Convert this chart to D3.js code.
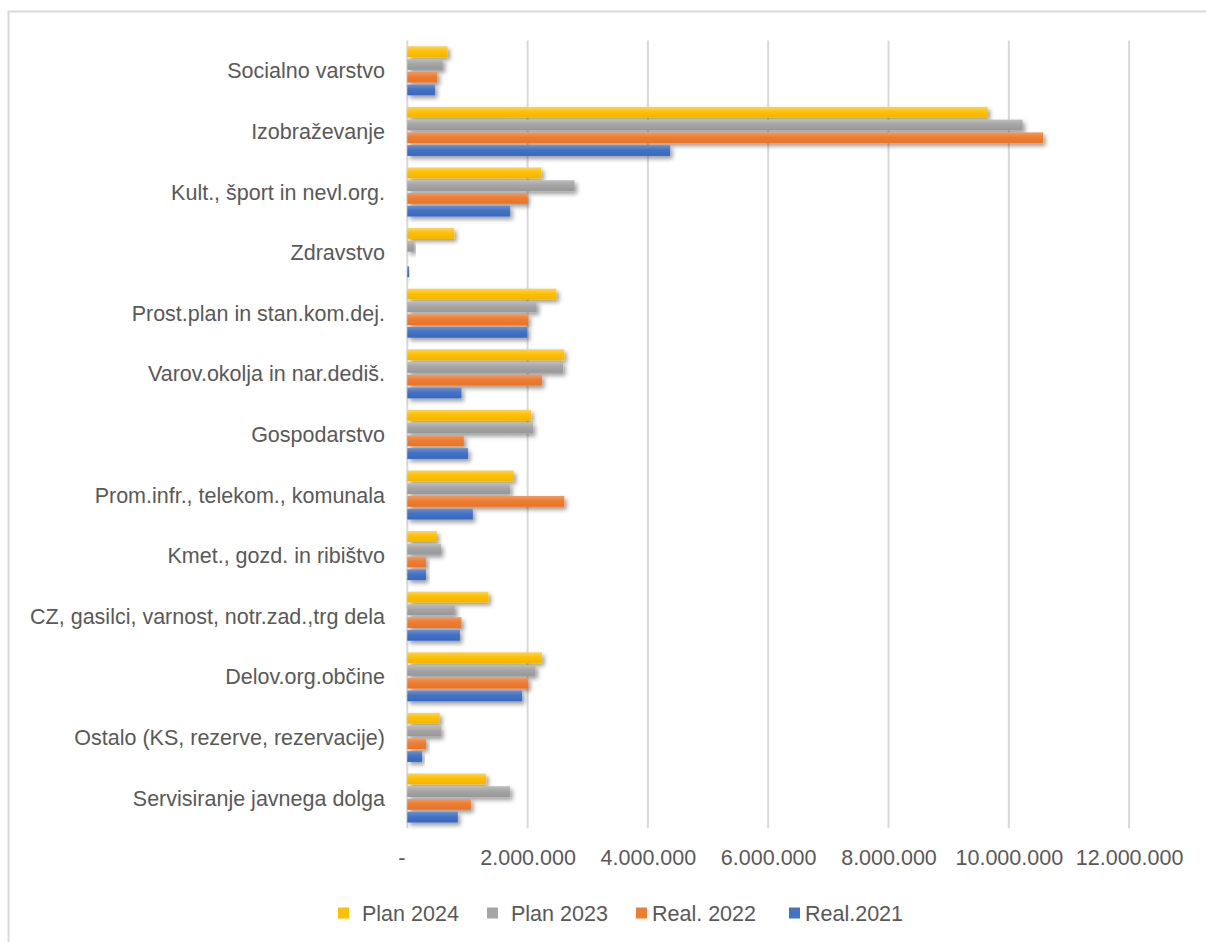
<!DOCTYPE html>
<html>
<head>
<meta charset="utf-8">
<script src="https://cdn.jsdelivr.net/npm/d3@7"></script>
<style>
  html, body { margin: 0; padding: 0; background: #fff; }
  svg { display: block; font-family: "Liberation Sans", Arial, sans-serif; }
</style>
</head>
<body>
<div id="chart"></div>
<script>
// Budget by area, horizontal grouped bars

const categories = [
    'Socialno varstvo',
    'Izobraževanje',
    'Kult., šport in nevl.org.',
    'Zdravstvo',
    'Prost.plan in stan.kom.dej.',
    'Varov.okolja in nar.dediš.',
    'Gospodarstvo',
    'Prom.infr., telekom., komunala',
    'Kmet., gozd. in ribištvo',
    'CZ, gasilci, varnost, notr.zad.,trg dela',
    'Delov.org.občine',
    'Ostalo (KS, rezerve, rezervacije)',
    'Servisiranje javnega dolga'
];

const seriesNames = ['Plan 2024', 'Plan 2023', 'Real. 2022', 'Real.2021'];

const plan2024 = [670000, 9650000, 2230000, 780000, 2480000, 2610000, 2060000, 1770000, 490000, 1350000, 2240000, 540000, 1310000];
const plan2023 = [590000, 10230000, 2780000, 110000, 2150000, 2590000, 2090000, 1710000, 560000, 790000, 2130000, 560000, 1710000];
const real2022 = [500000, 10570000, 1990000, 0, 2010000, 2240000, 940000, 2610000, 310000, 900000, 2010000, 310000, 1060000];
const real2021 = [460000, 4370000, 1710000, 30000, 1995000, 900000, 1010000, 1090000, 310000, 875000, 1910000, 245000, 840000];

const tickValues = [0, 2000000, 4000000, 6000000, 8000000, 10000000, 12000000];
const tickLabels = ['-', '2.000.000', '4.000.000', '6.000.000', '8.000.000', '10.000.000', '12.000.000'];

const seriesValues = [plan2024, plan2023, real2022, real2021];
const seriesColors = ['#FFC000', '#A5A5A5', '#ED7D31', '#4472C4'];
const seriesLight = ['#FFD34F', '#BDBDBD', '#F4995E', '#6A90D6'];
const seriesDark = ['#F2B600', '#979797', '#E8732A', '#3A67BB'];

const width = 1206, height = 942;
const margin = { top: 40.5, left: 407.3, right: 77, bottom: 113.7 };
const textColor = '#595959';
const fontSize = '21.5px';

const svg = d3.select('#chart').append('svg')
    .attr('width', width)
    .attr('height', height);

const defs = svg.append('defs');
const shadow = defs.append('filter').attr('id', 'shadow')
    .attr('x', '-10%').attr('y', '-50%').attr('width', '130%').attr('height', '250%');
shadow.append('feDropShadow')
    .attr('dx', 2.5).attr('dy', 3)
    .attr('stdDeviation', 2.2)
    .attr('flood-color', '#000')
    .attr('flood-opacity', 0.38);

seriesNames.forEach((s, i) => {
    const g = defs.append('linearGradient').attr('id', 'grad' + i)
        .attr('x1', 0).attr('y1', 0).attr('x2', 0).attr('y2', 1);
    g.append('stop').attr('offset', '0%').attr('stop-color', seriesLight[i]);
    g.append('stop').attr('offset', '45%').attr('stop-color', seriesColors[i]);
    g.append('stop').attr('offset', '100%').attr('stop-color', seriesDark[i]);
});

// chart frame
svg.append('rect')
    .attr('x', 8.5).attr('y', 11.5)
    .attr('width', 1300).attr('height', 1000)
    .attr('fill', 'none')
    .attr('stroke', '#d9d9d9')
    .attr('stroke-width', 2);

const x = d3.scaleLinear()
    .domain([0, 12000000])
    .range([margin.left, margin.left + 12 * 60.15]);

const y = d3.scaleBand()
    .domain(categories)
    .range([margin.top, height - margin.bottom])
    .paddingInner(0.19)
    .paddingOuter(0.095);

const ySub = d3.scaleBand()
    .domain(seriesNames)
    .range([0, y.bandwidth()])
    .paddingInner(0.15);

// gridlines
svg.append('g')
    .selectAll('line')
    .data(tickValues)
    .enter().append('line')
    .attr('x1', d => x(d)).attr('x2', d => x(d))
    .attr('y1', margin.top).attr('y2', height - margin.bottom)
    .attr('stroke', '#d9d9d9')
    .attr('stroke-width', 2);

// bars
const groups = svg.append('g').selectAll('g.cat')
    .data(categories)
    .enter().append('g')
    .attr('class', 'cat')
    .attr('transform', d => `translate(0, ${y(d)})`);

groups.selectAll('rect')
    .data((d, ci) => seriesNames.map((s, si) => ({ s, si, v: seriesValues[si][ci] })))
    .enter().append('rect')
    .filter(d => d.v > 0)
    .attr('x', x(0))
    .attr('y', d => ySub(d.s))
    .attr('width', d => x(d.v) - x(0))
    .attr('height', ySub.bandwidth())
    .attr('fill', d => `url(#grad${d.si})`)
    .attr('filter', 'url(#shadow)');

// category labels
svg.append('g')
    .selectAll('text')
    .data(categories)
    .enter().append('text')
    .attr('x', 385)
    .attr('y', d => y(d) + y.bandwidth() / 2)
    .attr('dy', '0.35em')
    .attr('text-anchor', 'end')
    .style('font-size', fontSize)
    .style('fill', textColor)
    .text(d => d);

// x axis labels
const xAxis = d3.axisBottom(x)
    .tickValues(tickValues)
    .tickFormat((d, i) => tickLabels[i])
    .tickSize(0)
    .tickPadding(0);

const axisG = svg.append('g')
    .attr('transform', `translate(0, 850)`)
    .call(xAxis);
axisG.select('.domain').remove();
axisG.selectAll('text')
    .style('font-size', fontSize)
    .style('font-family', '"Liberation Sans", Arial, sans-serif')
    .style('fill', textColor)
    .attr('dx', (d, i) => i === 0 ? -6 : 0);

// legend
const legendX = [338, 487, 636, 789];
const legend = svg.append('g').attr('transform', 'translate(0, 913)');
const items = legend.selectAll('g')
    .data(seriesNames)
    .enter().append('g')
    .attr('transform', (d, i) => `translate(${legendX[i]}, 0)`);
items.append('rect')
    .attr('x', 0).attr('y', -5.5)
    .attr('width', 11).attr('height', 11)
    .attr('fill', (d, i) => seriesColors[i]);
items.append('text')
    .attr('x', (d, i) => i < 2 ? 24 : 16)
    .attr('dy', '0.35em')
    .style('font-size', fontSize)
    .style('fill', textColor)
    .text(d => d);
</script>
</body>
</html>
